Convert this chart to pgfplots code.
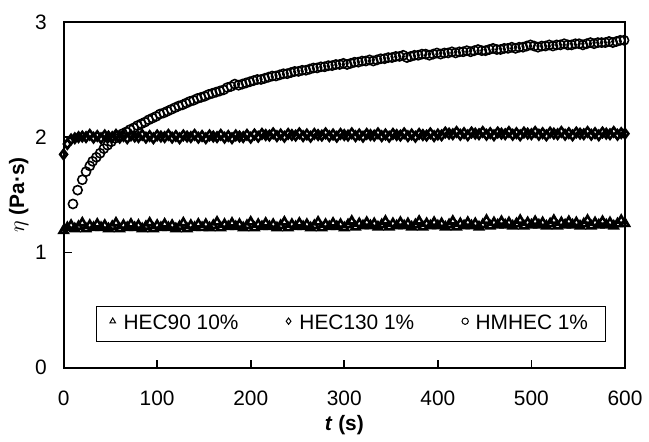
\documentclass[border=0pt]{standalone}
\usepackage{pgfplots}
\pgfplotsset{compat=1.18}
\usepackage{fontspec}
\setmainfont{Liberation Sans}

\begin{document}
\begin{tikzpicture}
\begin{axis}[
  scale only axis,
  width=282.5pt, height=174pt,
  xmin=0, xmax=600, ymin=0, ymax=3,
  xtick={0,100,...,600}, ytick={0,1,2,3},
  tick align=inside, xtick pos=bottom, ytick pos=left,
  major tick length=4pt,
  axis line style={line width=1pt},
  every tick/.style={black, line width=0.8pt},
  font=\fontsize{10.5}{12}\selectfont,
  /pgf/number format/assume math mode=true,
  xticklabel style={yshift=-8pt},
  yticklabel style={xshift=-5pt},
  xlabel={\textbf{\textit{t} (s)}},
  ylabel={$\eta$ \textbf{(Pa·s)}},
  xlabel style={at={(axis description cs:0.5,-0.165)}, anchor=center},
  ylabel style={at={(axis description cs:-0.08,0.5)}, anchor=center},
  clip=false,
  legend columns=3,
  legend style={at={(0.512,0.126)}, anchor=center, draw=black, line width=0.5pt,
    font=\fontsize{10.5}{12}\selectfont, inner xsep=7pt, inner ysep=2.5pt},
  legend cell align=left,
  legend image code/.code={\draw[#1, mark size=1.6pt, line width=0.5pt] plot coordinates {(0.1cm,0.05cm)};
    \path (0.2cm,0.05cm);},
  /tikz/every even column/.append style={column sep=22pt},
]
% HEC90 10%
\addplot[only marks, mark=triangle, mark size=2.3pt, black, line width=1.3pt] coordinates {
(0,1.19) (4,1.215) (8,1.235) (12,1.205) (16,1.225) (20,1.255) (24,1.205) (28,1.235) (32,1.215) (36,1.245)
(40,1.215) (44,1.235) (48,1.205) (52,1.225) (56,1.255) (60,1.205) (64,1.235) (68,1.215) (72,1.245) (76,1.215)
(80,1.235) (84,1.205) (88,1.225) (92,1.255) (96,1.205) (100,1.235) (104,1.215) (108,1.245) (112,1.215) (116,1.235)
(120,1.205) (124,1.225) (128,1.255) (132,1.205) (136,1.235) (140,1.215) (144,1.245) (148,1.215) (152,1.243) (156,1.213)
(160,1.233) (164,1.263) (168,1.213) (172,1.243) (176,1.223) (180,1.253) (184,1.223) (188,1.243) (192,1.213) (196,1.233)
(200,1.263) (204,1.213) (208,1.243) (212,1.223) (216,1.253) (220,1.223) (224,1.243) (228,1.213) (232,1.233) (236,1.263)
(240,1.213) (244,1.243) (248,1.223) (252,1.253) (256,1.223) (260,1.243) (264,1.213) (268,1.233) (272,1.263) (276,1.213)
(280,1.243) (284,1.223) (288,1.253) (292,1.223) (296,1.243) (300,1.213) (304,1.24) (308,1.27) (312,1.22) (316,1.25)
(320,1.23) (324,1.26) (328,1.23) (332,1.25) (336,1.22) (340,1.24) (344,1.27) (348,1.22) (352,1.25) (356,1.23)
(360,1.26) (364,1.23) (368,1.25) (372,1.22) (376,1.24) (380,1.27) (384,1.22) (388,1.25) (392,1.23) (396,1.26)
(400,1.23) (404,1.25) (408,1.22) (412,1.24) (416,1.27) (420,1.22) (424,1.25) (428,1.23) (432,1.26) (436,1.23)
(440,1.25) (444,1.22) (448,1.24) (452,1.278) (456,1.228) (460,1.258) (464,1.238) (468,1.268) (472,1.238) (476,1.258)
(480,1.228) (484,1.248) (488,1.278) (492,1.228) (496,1.258) (500,1.238) (504,1.268) (508,1.238) (512,1.258) (516,1.228)
(520,1.248) (524,1.278) (528,1.228) (532,1.258) (536,1.238) (540,1.268) (544,1.238) (548,1.258) (552,1.228) (556,1.248)
(560,1.278) (564,1.228) (568,1.258) (572,1.238) (576,1.268) (580,1.238) (584,1.258) (588,1.228) (592,1.248) (596,1.278)
(600,1.25)
};
\addlegendentry{HEC90 10\%}
% HEC130 1%
\addplot[only marks, mark=diamond, mark size=2.3pt, black, line width=1.3pt] coordinates {
(0,1.85) (4,1.94) (8,1.98) (12,1.99) (16,2.00) (20,2.005) (24,2.00) (28,2.02) (32,1.995) (36,2.01)
(40,1.99) (44,2.015) (48,2.005) (52,2.00) (56,2.02) (60,1.995) (64,2.01) (68,1.99) (72,2.015) (76,2.005)
(80,2.00) (84,2.02) (88,1.995) (92,2.01) (96,1.99) (100,2.015) (104,2.005) (108,2.00) (112,2.02) (116,1.995)
(120,2.01) (124,1.99) (128,2.015) (132,2.005) (136,2.00) (140,2.02) (144,1.995) (148,2.01) (152,1.99) (156,2.015)
(160,2.005) (164,2.00) (168,2.02) (172,1.995) (176,2.01) (180,1.99) (184,2.015) (188,2.005) (192,2.00) (196,2.02)
(200,1.995) (204,2.023) (208,2.003) (212,2.028) (216,2.018) (220,2.013) (224,2.033) (228,2.008) (232,2.023) (236,2.003)
(240,2.028) (244,2.018) (248,2.013) (252,2.033) (256,2.008) (260,2.023) (264,2.003) (268,2.028) (272,2.018) (276,2.013)
(280,2.033) (284,2.008) (288,2.023) (292,2.003) (296,2.028) (300,2.018) (304,2.013) (308,2.033) (312,2.008) (316,2.023)
(320,2.003) (324,2.028) (328,2.018) (332,2.013) (336,2.033) (340,2.008) (344,2.023) (348,2.003) (352,2.028) (356,2.018)
(360,2.013) (364,2.033) (368,2.008) (372,2.023) (376,2.003) (380,2.028) (384,2.018) (388,2.013) (392,2.033) (396,2.008)
(400,2.023) (404,2.015) (408,2.04) (412,2.03) (416,2.025) (420,2.045) (424,2.02) (428,2.035) (432,2.015) (436,2.04)
(440,2.03) (444,2.025) (448,2.045) (452,2.02) (456,2.035) (460,2.015) (464,2.04) (468,2.03) (472,2.025) (476,2.045)
(480,2.02) (484,2.035) (488,2.015) (492,2.04) (496,2.03) (500,2.025) (504,2.045) (508,2.02) (512,2.035) (516,2.015)
(520,2.04) (524,2.03) (528,2.025) (532,2.045) (536,2.02) (540,2.035) (544,2.015) (548,2.04) (552,2.03) (556,2.025)
(560,2.045) (564,2.02) (568,2.035) (572,2.015) (576,2.04) (580,2.03) (584,2.025) (588,2.045) (592,2.02) (596,2.035)
(600,2.03)
};
\addlegendentry{HEC130 1\%}
% HMHEC 1%
\addplot[only marks, mark=o, mark size=2.3pt, black, line width=0.8pt] coordinates {
(10,1.42) (15,1.54) (20,1.63) (24,1.70) (28,1.75) (31,1.79) (35,1.825) (39,1.86) (43,1.90) (47,1.93)
(51,1.96) (55,1.99) (59,2.01) (63,2.03) (67,2.045) (71,2.065) (75,2.08) (79,2.10) (83,2.115) (87,2.13)
(91,2.15) (95,2.165) (99,2.18) (103,2.20) (107,2.21) (111,2.225) (115,2.24) (119,2.255) (123,2.27) (127,2.28)
(131,2.295) (135,2.31) (139,2.32) (143,2.335) (147,2.345) (151,2.355) (155,2.37) (159,2.38) (163,2.39) (167,2.40)
(171,2.41) (175,2.43) (179,2.44) (183,2.46) (187,2.45) (191,2.46) (195,2.47) (199,2.48) (203,2.49) (207,2.50)
(211,2.50) (215,2.51) (219,2.52) (223,2.53) (227,2.53) (231,2.54) (235,2.55) (239,2.55) (243,2.56) (247,2.57)
(251,2.57) (255,2.58) (259,2.58) (263,2.59) (267,2.60) (271,2.60) (275,2.61) (279,2.61) (283,2.62) (287,2.62)
(291,2.63) (295,2.63) (299,2.64) (303,2.63) (307,2.64) (311,2.65) (315,2.65) (319,2.66) (323,2.66) (327,2.67)
(331,2.66) (335,2.67) (339,2.68) (343,2.68) (347,2.69) (351,2.69) (355,2.70) (359,2.70) (363,2.71) (367,2.69)
(371,2.70) (375,2.71) (379,2.71) (383,2.72) (387,2.72) (391,2.71) (395,2.72) (399,2.73) (403,2.72) (407,2.73)
(411,2.73) (415,2.74) (419,2.73) (423,2.74) (427,2.74) (431,2.75) (435,2.74) (439,2.75) (443,2.76) (447,2.75)
(451,2.75) (455,2.76) (459,2.77) (463,2.76) (467,2.76) (471,2.77) (475,2.77) (479,2.78) (483,2.77) (487,2.78)
(491,2.78) (495,2.79) (499,2.80) (503,2.79) (507,2.78) (511,2.79) (515,2.79) (519,2.80) (523,2.79) (527,2.80)
(531,2.80) (535,2.81) (539,2.80) (543,2.80) (547,2.81) (551,2.81) (555,2.80) (559,2.81) (563,2.82) (567,2.81)
(571,2.82) (575,2.82) (579,2.82) (583,2.83) (587,2.82) (591,2.83) (595,2.84) (599,2.84)
};
\addlegendentry{HMHEC 1\%}
\end{axis}
\path[use as bounding box] ([xshift=-32pt,yshift=-36.5pt]current axis.south west)
  rectangle ([xshift=10pt,yshift=11pt]current axis.north east);
\end{tikzpicture}
\end{document}
